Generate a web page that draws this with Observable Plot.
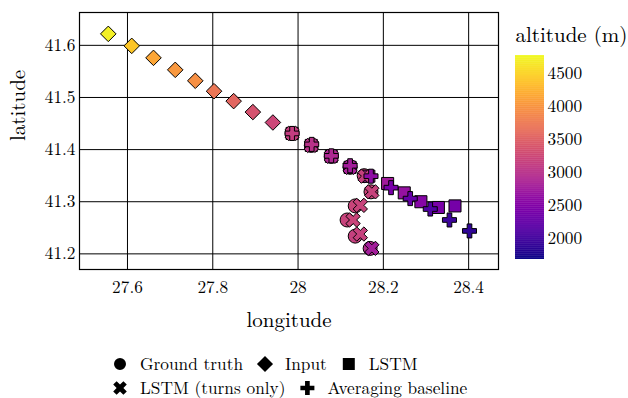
<!DOCTYPE html>
<html>
<head>
<meta charset="utf-8">
<script src="https://cdn.jsdelivr.net/npm/d3@7"></script>
<script src="https://cdn.jsdelivr.net/npm/@observablehq/plot@0.6"></script>
<style>
  html, body { margin: 0; padding: 0; background: #fff; font-family: 'Latin Modern Roman', 'Liberation Serif', serif; }
  #wrap { position: relative; width: 628px; height: 398px; overflow: hidden; }
  #wrap > * { position: absolute; }
</style>
</head>
<body>
<div id="wrap"></div>
<script>
// ---- data ----
const inputLon = [27.555, 27.610, 27.661, 27.712, 27.759, 27.803, 27.849, 27.894, 27.941];
const inputLat = [41.622, 41.599, 41.576, 41.553, 41.532, 41.512, 41.493, 41.472, 41.452];
const inputAlt = [4700, 4400, 4150, 4030, 3950, 3720, 3560, 3350, 3230];

const truthLon = [27.986, 28.031, 28.078, 28.122, 28.155, 28.171, 28.134, 28.115, 28.134, 28.169];
const truthLat = [41.431, 41.408, 41.387, 41.366, 41.350, 41.319, 41.292, 41.265, 41.234, 41.2105];
const truthAlt = [3140, 3010, 2900, 2820, 3180, 3200, 3200, 3190, 3150, 2950];

const lstmLon = [27.986, 28.031, 28.078, 28.122, 28.166, 28.210, 28.249, 28.288, 28.329, 28.368];
const lstmLat = [41.431, 41.408, 41.387, 41.366, 41.349, 41.335, 41.317, 41.300, 41.289, 41.292];
const lstmAlt = [3140, 3010, 2900, 2820, 2790, 2760, 2650, 2520, 2430, 2390];

const turnLon = [27.986, 28.031, 28.078, 28.122, 28.157, 28.173, 28.146, 28.129, 28.146, 28.173];
const turnLat = [41.431, 41.408, 41.387, 41.366, 41.349, 41.319, 41.293, 41.265, 41.238, 41.2105];
const turnAlt = [3140, 3010, 2900, 2820, 3150, 3170, 3190, 3200, 3160, 2780];

const avgLon = [27.986, 28.032, 28.078, 28.122, 28.171, 28.218, 28.263, 28.310, 28.355, 28.402];
const avgLat = [41.431, 41.410, 41.388, 41.369, 41.349, 41.327, 41.306, 41.286, 41.265, 41.244];
const avgAlt = [3130, 3010, 2900, 2780, 2600, 2420, 2260, 2100, 1960, 1860];

const xTicks = [27.6, 27.8, 28.0, 28.2, 28.4];
const yTicks = [41.2, 41.3, 41.4, 41.5, 41.6];
const altTicks = [2000, 2500, 3000, 3500, 4000, 4500];
const altDomain = [1687, 4767];

const legendRows = [["Ground truth", "Input", "LSTM"], ["LSTM (turns only)", "Averaging baseline"]];

// ---- helpers ----
const FONT = "'Latin Modern Roman', 'Liberation Serif', serif";
const rows = (lon, lat, alt) => lon.map((d, i) => ({lon: d, lat: lat[i], alt: alt[i]}));
const crossPts = r => [[-3*r,-r],[-r,-r],[-r,-3*r],[r,-3*r],[r,-r],[3*r,-r],[3*r,r],[r,r],[r,3*r],[-r,3*r],[-r,r],[-3*r,r]];
const symbolX = {
  draw(ctx, size) {
    const r = Math.sqrt(size / 5) / 2, c = Math.SQRT1_2;
    crossPts(r).forEach(([x, y], i) => {
      const X = (x - y) * c, Y = (x + y) * c;
      i ? ctx.lineTo(X, Y) : ctx.moveTo(X, Y);
    });
    ctx.closePath();
  }
};
const fmt = d => String(+d.toFixed(1));
const colorOpt = {type: "linear", scheme: "plasma", domain: altDomain};
const dotStyle = {x: "lon", y: "lat", fill: "alt", stroke: "black", strokeWidth: 1};
const forceFont = (node) => {
  d3.select(node).selectAll("text").each(function () {
    this.setAttribute("font-family", FONT);
    this.style.fontFamily = FONT;
  });
};

const wrap = document.getElementById("wrap");

// ---- main chart ----
const main = Plot.plot({
  width: 628, height: 338,
  marginLeft: 79, marginRight: 130, marginTop: 12, marginBottom: 69,
  style: {fontFamily: FONT, fontSize: "17.3px", color: "black", background: "white"},
  x: {domain: [27.4875, 28.470], ticks: xTicks, tickFormat: fmt, tickSize: 0, tickPadding: 11, label: null},
  y: {domain: [41.170, 41.663], ticks: yTicks, tickFormat: fmt, tickSize: 0, tickPadding: 4, label: null},
  color: colorOpt,
  marks: [
    Plot.ruleX(xTicks, {stroke: "black", strokeWidth: 1}),
    Plot.ruleY(yTicks, {stroke: "black", strokeWidth: 1}),
    Plot.dot(rows(truthLon, truthLat, truthAlt), {...dotStyle, symbol: "circle", r: 7}),
    Plot.dot(rows(inputLon, inputLat, inputAlt), {...dotStyle, symbol: "diamond2", r: 7}),
    Plot.dot(rows(lstmLon, lstmLat, lstmAlt), {...dotStyle, symbol: "square", r: 6.8}),
    Plot.dot(rows(turnLon, turnLat, turnAlt), {...dotStyle, symbol: symbolX, r: 6.4}),
    Plot.dot(rows(avgLon, avgLat, avgAlt), {...dotStyle, symbol: "cross", r: 5.9}),
    Plot.frame({stroke: "black", strokeWidth: 1.2}),
    Plot.text(["longitude"], {text: d => d, frameAnchor: "bottom", lineAnchor: "middle", dy: 51, fontSize: 21}),
    Plot.text(["latitude"], {text: d => d, frameAnchor: "left", lineAnchor: "middle", dx: -61, rotate: -90, fontSize: 21})
  ]
});
main.style.left = "0px"; main.style.top = "0px";
forceFont(main);
wrap.appendChild(main);

// ---- colorbar ----
const bandStep = 10;
const bands = d3.range(altDomain[0], altDomain[1], bandStep);
const cbar = Plot.plot({
  width: 128, height: 270,
  marginLeft: 15, marginRight: 84, marginTop: 55, marginBottom: 11,
  style: {fontFamily: FONT, fontSize: "17.3px", color: "black", background: "transparent"},
  y: {domain: altDomain, ticks: altTicks, tickFormat: d => String(d), tickSize: 0, tickPadding: 3, axis: "right", label: null},
  color: colorOpt,
  marks: [
    Plot.rect(bands, {y1: d => d, y2: d => Math.min(altDomain[1], d + bandStep * 1.6), fill: d => d + bandStep / 2}),
    Plot.text(["altitude (m)"], {text: d => d, frameAnchor: "top-left", textAnchor: "start", lineAnchor: "middle", dy: -20, fontSize: 21})
  ]
});
cbar.style.left = "500px"; cbar.style.top = "0px";
forceFont(cbar);
wrap.appendChild(cbar);

// ---- legend ----
const legendSyms = [[d3.symbolCircle, d3.symbolDiamond2, d3.symbolSquare], [symbolX, d3.symbolCross]];
const legendSizes = [[113, 165, 144], [115, 109]];
const rowY = [26, 50];
const leg = d3.create("svg").attr("width", 628).attr("height", 60)
  .style("left", "0px").style("top", "338px")
  .attr("font-family", FONT).style("font-family", FONT).style("font-size", "17.3px");
wrap.appendChild(leg.node());
legendRows.forEach((names, r) => {
  let x0 = 112;
  names.forEach((name, i) => {
    leg.append("path").attr("d", d3.symbol(legendSyms[r][i], legendSizes[r][i])())
      .attr("transform", `translate(${x0 + 8},${rowY[r]})`).attr("fill", "black");
    const t = leg.append("text").attr("x", x0 + 28).attr("y", rowY[r]).attr("dy", "0.32em")
      .attr("fill", "black").attr("font-family", FONT).text(name);
    x0 = x0 + 28 + t.node().getComputedTextLength() + 14;
  });
});
</script>
</body>
</html>
